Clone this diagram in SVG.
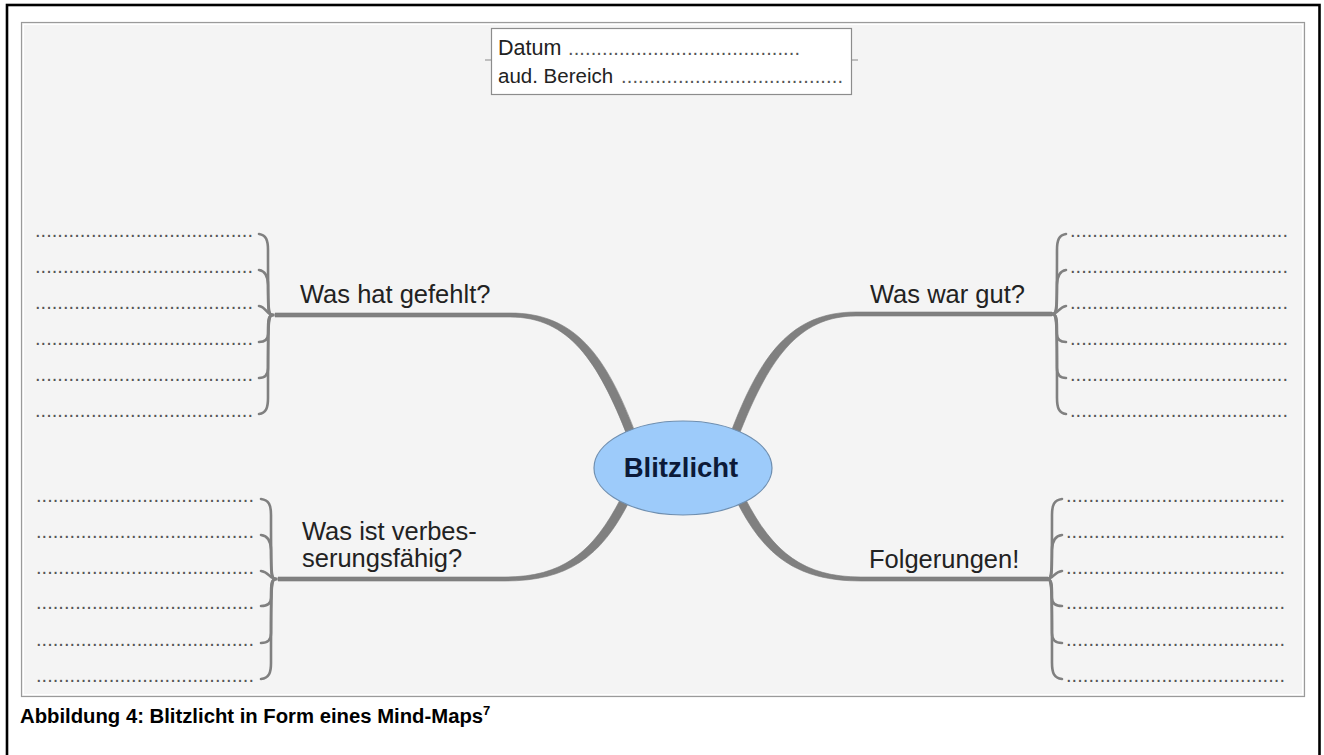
<svg xmlns="http://www.w3.org/2000/svg" width="1324" height="755" viewBox="0 0 1324 755">
<style>
.lbl{font-family:"Liberation Sans",Arial,sans-serif;font-size:25.5px;fill:#222}
.dots{font-family:"Liberation Sans",Arial,sans-serif;font-size:20px;fill:#555}
.hdr{font-family:"Liberation Sans",Arial,sans-serif;fill:#222}
.br{fill:none;stroke:#808080;stroke-width:2.6;stroke-linecap:round}
.con{fill:#808080;stroke:#7a7a7a;stroke-width:0.6}
</style>
<rect x="0" y="0" width="1324" height="755" fill="#ffffff"/>
<rect x="7" y="5" width="1312.5" height="800" fill="none" stroke="#000" stroke-width="2.6"/>
<rect x="21.5" y="22.5" width="1283" height="674" fill="#f4f4f4" stroke="#9a9a9a" stroke-width="1.2"/>
<rect x="23.5" y="24.5" width="1279" height="670" fill="none" stroke="#ffffff" stroke-width="1"/>

<g id="connectors">
  <path class="con" d="M275,313 L510,313 C575,313 606,355 636,434.5 L628,437.5 C598,361 569,317 510,317 L275,317 Z"/>
  <path class="con" d="M1052,312 L856,312 C791,312 760,355 730,434.5 L738,437.5 C768,361 797,316 856,316 L1052,316 Z"/>
  <path class="con" d="M278,577 L505,577 C562,577 593,553 621,498 L629,502 C601,557 568,581 505,581 L278,581 Z"/>
  <path class="con" d="M745,498 C773,553 804,577 861,577 L1048,577 L1048,581 L861,581 C798,581 765,557 737,502 Z"/>
  <g id="bracket-tl">
    <path class="br" d="M273,315 C268,315 268,312 268,250 C268,240 266,235 259,234"/>
    <path class="br" d="M273,315 C268,315 268,312 268,285 C268,276 265,271 259,270"/>
    <path class="br" d="M273,315 C267,315 266,307 259,306"/>
    <path class="br" d="M273,315 C268,315 268,320 268,334 C268,339 265,342 259,342"/>
    <path class="br" d="M273,315 C268,315 268,320 268,368 C268,375 265,378 259,378"/>
    <path class="br" d="M273,315 C268,315 268,320 268,398 C268,408 266,413 259,414"/>
  </g>
  <g id="bracket-tr">
    <path class="br" d="M1052,314 C1057,314 1057,311 1057,250 C1057,240 1059,235 1066,234"/>
    <path class="br" d="M1052,314 C1057,314 1057,311 1057,285 C1057,276 1060,271 1066,270"/>
    <path class="br" d="M1052,314 C1058,314 1059,307 1066,306"/>
    <path class="br" d="M1052,314 C1057,314 1057,319 1057,334 C1057,339 1060,342 1066,342"/>
    <path class="br" d="M1052,314 C1057,314 1057,319 1057,368 C1057,375 1060,378 1066,378"/>
    <path class="br" d="M1052,314 C1057,314 1057,319 1057,398 C1057,408 1059,413 1066,414"/>
  </g>
  <g id="bracket-bl">
    <path class="br" d="M276,579 C271,579 271,576 271,515 C271,505 269,500 261,499"/>
    <path class="br" d="M276,579 C271,579 271,576 271,550 C271,541 268,536 261,535"/>
    <path class="br" d="M276,579 C270,579 269,572 261,571"/>
    <path class="br" d="M276,579 C271,579 271,584 271,598 C271,603 268,606 261,606"/>
    <path class="br" d="M276,579 C271,579 271,584 271,633 C271,640 268,643 261,643"/>
    <path class="br" d="M276,579 C271,579 271,584 271,663 C271,673 269,678 261,679"/>
  </g>
  <g id="bracket-br">
    <path class="br" d="M1047,579 C1052,579 1052,576 1052,515 C1052,505 1054,500 1062,499"/>
    <path class="br" d="M1047,579 C1052,579 1052,576 1052,550 C1052,541 1055,536 1062,535"/>
    <path class="br" d="M1047,579 C1053,579 1054,572 1062,571"/>
    <path class="br" d="M1047,579 C1052,579 1052,584 1052,598 C1052,603 1055,606 1062,606"/>
    <path class="br" d="M1047,579 C1052,579 1052,584 1052,633 C1052,640 1055,643 1062,643"/>
    <path class="br" d="M1047,579 C1052,579 1052,584 1052,663 C1052,673 1054,678 1062,679"/>
  </g>
</g>

<g id="header">
  <line x1="485" y1="60" x2="491" y2="60" stroke="#9a9a9a" stroke-width="1.2"/>
  <line x1="852" y1="60" x2="858" y2="60" stroke="#9a9a9a" stroke-width="1.2"/>
  <rect x="491.5" y="28.5" width="360" height="66" fill="#ffffff" stroke="#8c8c8c" stroke-width="1.2"/>
  <text class="hdr" x="498" y="55" font-size="21.5">Datum</text>
  <text class="dots" x="568" y="55" font-size="18" textLength="232" lengthAdjust="spacing">.........................................</text>
  <text class="hdr" x="498" y="83" font-size="20.5">aud. Bereich</text>
  <text class="dots" x="621" y="83" font-size="18" textLength="222" lengthAdjust="spacing">.......................................</text>
</g>

<g id="center">
  <ellipse cx="683" cy="468" rx="89" ry="47" fill="#9dcbfa" stroke="#6f8fb0" stroke-width="1.2"/>
  <text x="681" y="477" text-anchor="middle" font-family="Liberation Sans, Arial, sans-serif" font-weight="bold" font-size="27.5" fill="#0c1a38">Blitzlicht</text>
</g>

<g id="node-was-hat-gefehlt">
  <text class="lbl" x="300" y="303">Was hat gefehlt?</text>
  <text class="dots" x="35" y="237" textLength="218" lengthAdjust="spacing">.......................................</text>
  <text class="dots" x="35" y="273" textLength="218" lengthAdjust="spacing">.......................................</text>
  <text class="dots" x="35" y="309" textLength="218" lengthAdjust="spacing">.......................................</text>
  <text class="dots" x="35" y="345" textLength="218" lengthAdjust="spacing">.......................................</text>
  <text class="dots" x="35" y="381" textLength="218" lengthAdjust="spacing">.......................................</text>
  <text class="dots" x="35" y="417" textLength="218" lengthAdjust="spacing">.......................................</text>
</g>

<g id="node-was-war-gut">
  <text class="lbl" x="870" y="303">Was war gut?</text>
  <text class="dots" x="1070" y="237" textLength="218" lengthAdjust="spacing">.......................................</text>
  <text class="dots" x="1070" y="273" textLength="218" lengthAdjust="spacing">.......................................</text>
  <text class="dots" x="1070" y="309" textLength="218" lengthAdjust="spacing">.......................................</text>
  <text class="dots" x="1070" y="345" textLength="218" lengthAdjust="spacing">.......................................</text>
  <text class="dots" x="1070" y="381" textLength="218" lengthAdjust="spacing">.......................................</text>
  <text class="dots" x="1070" y="417" textLength="218" lengthAdjust="spacing">.......................................</text>
</g>

<g id="node-verbesserungsfaehig">
  <text class="lbl" x="302" y="540">Was ist verbes-</text>
  <text class="lbl" x="302" y="567">serungsfähig?</text>
  <text class="dots" x="36" y="502" textLength="218" lengthAdjust="spacing">.......................................</text>
  <text class="dots" x="36" y="538" textLength="218" lengthAdjust="spacing">.......................................</text>
  <text class="dots" x="36" y="574" textLength="218" lengthAdjust="spacing">.......................................</text>
  <text class="dots" x="36" y="609" textLength="218" lengthAdjust="spacing">.......................................</text>
  <text class="dots" x="36" y="646" textLength="218" lengthAdjust="spacing">.......................................</text>
  <text class="dots" x="36" y="682" textLength="218" lengthAdjust="spacing">.......................................</text>
</g>

<g id="node-folgerungen">
  <text class="lbl" x="869" y="568">Folgerungen!</text>
  <text class="dots" x="1066" y="502" textLength="219" lengthAdjust="spacing">.......................................</text>
  <text class="dots" x="1066" y="538" textLength="219" lengthAdjust="spacing">.......................................</text>
  <text class="dots" x="1066" y="574" textLength="219" lengthAdjust="spacing">.......................................</text>
  <text class="dots" x="1066" y="609" textLength="219" lengthAdjust="spacing">.......................................</text>
  <text class="dots" x="1066" y="646" textLength="219" lengthAdjust="spacing">.......................................</text>
  <text class="dots" x="1066" y="682" textLength="219" lengthAdjust="spacing">.......................................</text>
</g>

<g id="caption">
  <text x="20" y="723" font-family="Liberation Sans, Arial, sans-serif" font-weight="bold" font-size="20.3" fill="#000">Abbildung 4: Blitzlicht in Form eines Mind-Maps<tspan font-size="13" dy="-8">7</tspan></text>
</g>
</svg>
